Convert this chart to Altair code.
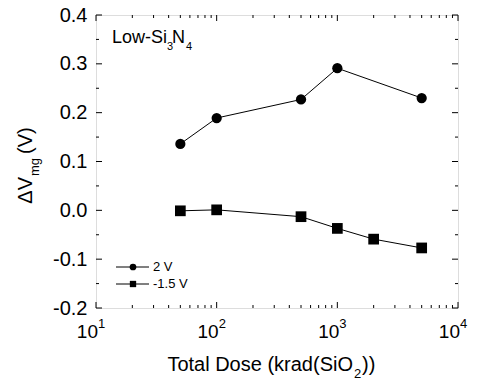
import altair as alt
import pandas as pd

# ---- data ----
dose_2v = [50, 100, 500, 1000, 5000]
dv_2v = [0.136, 0.189, 0.227, 0.291, 0.230]
dose_m15 = [50, 100, 500, 1000, 2000, 5000]
dv_m15 = [-0.001, 0.001, -0.013, -0.037, -0.059, -0.077]

x_major = [10, 100, 1000, 10000]
x_sup = ["1", "2", "3", "4"]
x_minor = [20, 30, 40, 50, 60, 70, 80, 90,
           200, 300, 400, 500, 600, 700, 800, 900,
           2000, 3000, 4000, 5000, 6000, 7000, 8000, 9000]
y_major = [-0.2, -0.1, 0.0, 0.1, 0.2, 0.3, 0.4]
y_minor = [-0.15, -0.05, 0.05, 0.15, 0.25, 0.35]

legend_labels = ["2 V", "-1.5 V"]

W, H = 362, 293
FONT = "Liberation Sans"

xs = alt.Scale(type="log", domain=[10, 10000], nice=False)
ys = alt.Scale(domain=[-0.2, 0.4], nice=False, zero=False)

df_2v = pd.DataFrame({"dose": dose_2v, "dv": dv_2v})
df_m15 = pd.DataFrame({"dose": dose_m15, "dv": dv_m15})
dfxM = pd.DataFrame({"v": x_major, "sup": x_sup})
dfxm = pd.DataFrame({"v": x_minor})
dfyM = pd.DataFrame({"v": y_major})
dfym = pd.DataFrame({"v": y_minor})

base_axes = alt.Chart(dfyM).mark_point(opacity=0).encode(
    x=alt.X("v:Q", scale=xs, axis=None),
    y=alt.Y("v:Q", scale=ys,
            axis=alt.Axis(values=y_major, ticks=False, domain=False, grid=False,
                          labelFont=FONT, labelFontSize=20, labelColor="black",
                          labelPadding=9, title=None,
                          labelExpr="datum.value < 0 ? '-' + format(-datum.value, '.1f') : format(datum.value, '.1f')")),
)

def series(df, shape, size):
    line = alt.Chart(df).mark_line(color="black", strokeWidth=1).encode(
        x=alt.X("dose:Q", scale=xs), y=alt.Y("dv:Q", scale=ys))
    pts = alt.Chart(df).mark_point(shape=shape, filled=True, color="black",
                                   size=size, opacity=1).encode(
        x=alt.X("dose:Q", scale=xs), y=alt.Y("dv:Q", scale=ys))
    return line + pts

def xticks(df, L):
    bot = alt.Chart(df).mark_rule(color="black", strokeWidth=1).encode(
        x=alt.X("v:Q", scale=xs), y=alt.value(H), y2=alt.value(H - L))
    top = alt.Chart(df).mark_rule(color="black", strokeWidth=1).encode(
        x=alt.X("v:Q", scale=xs), y=alt.value(0), y2=alt.value(L))
    return bot + top

def yticks(df, L):
    lef = alt.Chart(df).mark_rule(color="black", strokeWidth=1).encode(
        y=alt.Y("v:Q", scale=ys), x=alt.value(0), x2=alt.value(L))
    rig = alt.Chart(df).mark_rule(color="black", strokeWidth=1).encode(
        y=alt.Y("v:Q", scale=ys), x=alt.value(W), x2=alt.value(W - L))
    return lef + rig

xl_base = alt.Chart(dfxM).mark_text(font=FONT, fontSize=19, align="right",
                                    baseline="alphabetic", dx=2, color="black").encode(
    x=alt.X("v:Q", scale=xs), y=alt.value(323), text=alt.value("10"))
xl_sup = alt.Chart(dfxM).mark_text(font=FONT, fontSize=13, align="left",
                                   baseline="alphabetic", dx=2, color="black").encode(
    x=alt.X("v:Q", scale=xs), y=alt.value(313), text="sup:N")

one = alt.Data(values=[{"a": 1}])

def txt(t, x, y, size, align="left", angle=0):
    kw = dict(font=FONT, fontSize=size, align=align, baseline="alphabetic", color="black")
    if angle:
        kw["angle"] = angle
    return alt.Chart(one).mark_text(**kw).encode(
        x=alt.value(x), y=alt.value(y), text=alt.value(t))

xtitle = (txt("Total Dose (krad(SiO", 257, 356, 20, "right")
          + txt("2", 258, 363, 13)
          + txt("))", 266, 356, 20))
ytitle = (txt("\u0394V", -64, 162, 20, "right", 270)
          + txt("mg", -57, 161, 13, "left", 270)
          + txt("(V)", -64, 139, 20, "left", 270))

anno = (txt("Low-Si", 16, 28, 18)
        + txt("3", 71, 35, 11)
        + txt("N", 76, 28, 18)
        + txt("4", 90, 35, 11))

def leg_item(label, shape, size, y):
    ln = alt.Chart(one).mark_rule(color="black", strokeWidth=1).encode(
        x=alt.value(20), x2=alt.value(53), y=alt.value(y))
    mk = alt.Chart(one).mark_point(shape=shape, filled=True, color="black",
                                   size=size, opacity=1).encode(
        x=alt.value(37), y=alt.value(y))
    tx = alt.Chart(one).mark_text(font=FONT, fontSize=13, align="left",
                                  baseline="middle", color="black").encode(
        x=alt.value(57), y=alt.value(y), text=alt.value(label))
    return ln + mk + tx

legend = leg_item(legend_labels[0], "circle", 45, 252) + leg_item(legend_labels[1], "square", 40, 269)

chart = alt.layer(
    base_axes,
    xticks(dfxM, 6), xticks(dfxm, 3),
    yticks(dfyM, 6), yticks(dfym, 3),
    series(df_2v, "circle", 105),
    series(df_m15, "square", 115),
    xl_base, xl_sup, xtitle, ytitle, anno, legend,
).properties(
    width=W, height=H,
    autosize=alt.AutoSizeParams(type="none"),
    padding={"left": 96, "top": 15, "right": 21, "bottom": 76},
).configure_view(stroke="black", strokeWidth=1.3).configure(background="white")

chart.save("out.html", embed_options={"renderer": "svg", "actions": False})
